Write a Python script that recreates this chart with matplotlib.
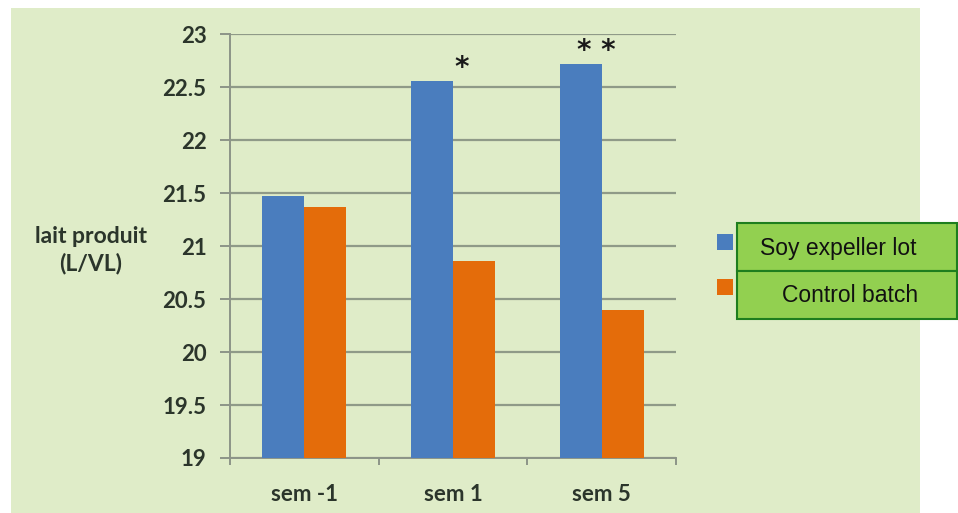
import matplotlib
matplotlib.use("Agg")
import matplotlib.pyplot as plt
from matplotlib.patches import Rectangle
import numpy as np

categories = ["sem -1", "sem 1", "sem 5"]
soy_values = [21.47, 22.56, 22.72]
control_values = [21.37, 20.86, 20.40]
series_labels = ["Soy expeller lot", "Control batch"]
significance = ["", "*", "**"]
y_ticks = [19, 19.5, 20, 20.5, 21, 21.5, 22, 22.5, 23]
y_tick_labels = ["19", "19.5", "20", "20.5", "21", "21.5", "22", "22.5", "23"]

W, H = 958, 513
fig = plt.figure(figsize=(W / 100, H / 100), dpi=100)
fig.patch.set_facecolor("white")

bg = "#DFECC8"
fig.patches.append(Rectangle((11 / W, 0), (920 - 11) / W, (H - 8) / H,
                             transform=fig.transFigure, facecolor=bg,
                             edgecolor="none", zorder=-5))

ax = fig.add_axes([230 / W, 55 / H, (676 - 230) / W, (458 - 34) / H])
ax.set_facecolor("none")
ax.set_zorder(1)

blue = "#4A7DBE"
orange = "#E46C0A"
x = np.arange(len(categories))
bw = 0.283
b1 = ax.bar(x - bw / 2, soy_values, bw, color=blue, zorder=3)
b2 = ax.bar(x + bw / 2, control_values, bw, color=orange, zorder=3)

ax.set_ylim(19, 23)
ax.set_xlim(-0.5, 2.5)
ax.set_yticks(y_ticks)
ax.set_yticklabels(y_tick_labels)
ax.yaxis.grid(True, color="#8F9A88", linewidth=1.6, zorder=1)
ax.set_axisbelow(True)

for s in ["top", "right"]:
    ax.spines[s].set_visible(False)
for s in ["left", "bottom"]:
    ax.spines[s].set_color("#8C9488")
    ax.spines[s].set_linewidth(1.4)

ax.set_xticks(x)
ax.set_xticklabels(categories)
ax.tick_params(axis="x", length=0, pad=26)
ax.set_xticks([-0.5, 0.5, 1.5, 2.5], minor=True)
ax.tick_params(axis="x", which="minor", length=5, width=1.4, color="#8C9488", direction="out")
ax.tick_params(axis="y", length=7, width=1.4, color="#8C9488", pad=10)

font = "Lato"
for lbl in ax.get_xticklabels() + ax.get_yticklabels():
    lbl.set_fontfamily(font)
    lbl.set_fontsize(16)
    lbl.set_color("#2B352B")
    lbl.set_fontweight("bold")
for lbl in ax.get_xticklabels():
    lbl.set_va("center")

fig.text(91 / W, 1 - 250 / H, "lait produit\n(L/VL)", ha="center", va="center",
         fontsize=16.5, fontweight="bold", family=font, color="#2B352B",
         linespacing=1.35)

# significance stars
offsets = [0, 0.057, -0.037]
for i, (v, s) in enumerate(zip(soy_values, significance)):
    if s:
        ax.text(x[i] + offsets[i], v + 0.12, " ".join(s), ha="center", va="center",
                fontsize=20, fontweight="bold", color="#1A1A1A",
                family="DejaVu Sans", clip_on=False)

# legend squares
for (yy, c) in [(234, blue), (279, orange)]:
    fig.patches.append(Rectangle((717 / W, 1 - (yy + 16) / H), 16 / W, 16 / H,
                                 transform=fig.transFigure, facecolor=c,
                                 edgecolor="none", zorder=5))

# overlay boxes
boxes = [(223, 271), (271, 319)]
text_cx = [838, 850]
for (y0, y1), lab, cx in zip(boxes, series_labels, text_cx):
    fig.patches.append(Rectangle((737 / W, 1 - y1 / H), (957 - 737) / W, (y1 - y0) / H,
                                 transform=fig.transFigure, facecolor="#92D050",
                                 edgecolor="#1E7E1E", linewidth=1.5, zorder=6))
    fig.text(cx / W, 1 - ((y0 + y1) / 2 + 1) / H, lab, ha="center",
             va="center", fontsize=16.5, family="Liberation Sans", color="#111111",
             zorder=7)

fig.savefig("out.png", dpi=100, facecolor=fig.get_facecolor())
